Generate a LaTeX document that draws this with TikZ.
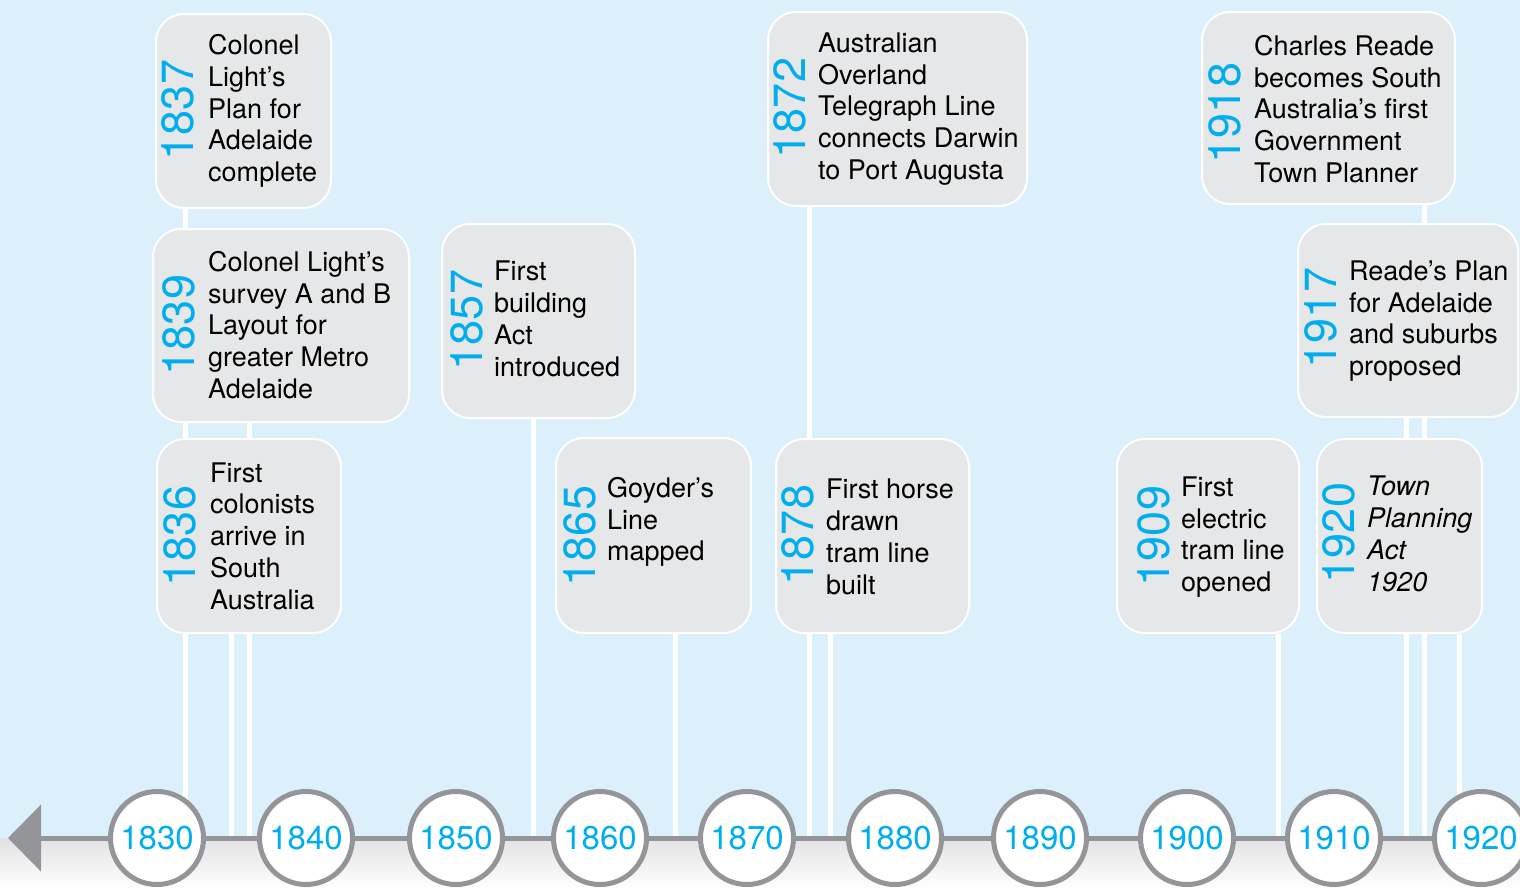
\documentclass[tikz,border=0pt]{standalone}
\usepackage{fontspec}
\setmainfont{TeX Gyre Heros}
\usetikzlibrary{arrows.meta}
\pgfdeclarelayer{background}
\pgfdeclarelayer{backmost}
\pgfsetlayers{backmost,background,main}
\definecolor{bgblue}{RGB}{220,240,251}
\definecolor{boxgray}{RGB}{230,231,232}
\definecolor{tlgray}{RGB}{147,149,152}
\definecolor{yrcyan}{RGB}{0,174,239}
\definecolor{floorgray}{RGB}{226,226,228}
\tikzset{
  evbox/.style={draw=white, line width=2pt, fill=boxgray, rounded corners=28pt, inner sep=0pt},
  evtext/.style={anchor=west, align=left, inner sep=0pt, text=black, font=\fontsize{27}{31.8}\selectfont},
  evyear/.style={rotate=90, inner sep=0pt, text=yrcyan, font=\fontsize{45}{45}\selectfont},
  conn/.style={draw=white, line width=5pt},
  timeline/.style={draw=tlgray, line width=5pt},
  yearcircle/.style={circle, draw=tlgray, line width=5pt, fill=white, minimum size=93pt, inner sep=0pt, text=yrcyan, font=\fontsize{33}{33}\selectfont}
}
\begin{document}
\begin{tikzpicture}[x=1pt,y=-1pt]
\useasboundingbox (0,0) rectangle (1520,889);
% background
\begin{pgfonlayer}{backmost}
\fill[bgblue] (0,0) rectangle (1520,838);
\shade[top color=floorgray, bottom color=white] (0,838) rectangle (1520,889);
\end{pgfonlayer}

% boxes
\node[evbox, minimum width=175pt, minimum height=194pt] (b1837) at (243.5,111) {};
\node[evbox, minimum width=256pt, minimum height=193pt] (b1839) at (281,325.5) {};
\node[evbox, minimum width=184pt, minimum height=194pt] (b1836) at (249,536) {};
\node[evbox, minimum width=193pt, minimum height=194pt] (b1857) at (538.5,321) {};
\node[evbox, minimum width=195pt, minimum height=195pt] (b1865) at (653.5,535.5) {};
\node[evbox, minimum width=259pt, minimum height=194pt] (b1872) at (897.5,109) {};
\node[evbox, minimum width=193pt, minimum height=194pt] (b1878) at (872.5,536) {};
\node[evbox, minimum width=253pt, minimum height=192pt] (b1918) at (1328.5,108) {};
\node[evbox, minimum width=220pt, minimum height=193pt] (b1917) at (1408,320.5) {};
\node[evbox, minimum width=182pt, minimum height=194pt] (b1909) at (1208,536) {};
\node[evbox, minimum width=165pt, minimum height=194pt] (b1920) at (1399.5,536) {};

% connector ends on the timeline
\coordinate (e1837) at (185,838);
\coordinate (e1836) at (231,838);
\coordinate (e1839) at (249.5,838);
\coordinate (e1857) at (533,838);
\coordinate (e1865) at (675.5,838);
\coordinate (e1872) at (809,838);
\coordinate (e1878) at (830.5,838);
\coordinate (e1909) at (1278,838);
\coordinate (e1917) at (1406,838);
\coordinate (e1918) at (1424,838);
\coordinate (e1920) at (1459.5,838);
\coordinate (tip) at (8,838);

\begin{pgfonlayer}{background}
\foreach \y in {1837,1836,1839,1857,1865,1872,1878,1909,1917,1918,1920}
  \draw[conn] (b\y.south -| e\y) -- (e\y);
\end{pgfonlayer}

% year labels
\node[evyear] (y1837) at (178,110) {1837};
\node[evyear] (y1839) at (179,325) {1839};
\node[evyear] (y1836) at (179.5,536) {1836};
\node[evyear] (y1857) at (467,320) {1857};
\node[evyear] (y1865) at (580,536) {1865};
\node[evyear] (y1872) at (790,108) {1872};
\node[evyear] (y1878) at (798,535) {1878};
\node[evyear] (y1918) at (1225,113) {1918};
\node[evyear] (y1917) at (1321,318) {1917};
\node[evyear] (y1909) at (1154,536) {1909};
\node[evyear] (y1920) at (1339,533) {1920};

% event texts
\node[evtext] (t1837) at (208,111) {Colonel\\Light’s\\Plan for\\Adelaide\\complete};
\node[evtext] (t1839) at (208,325) {Colonel Light’s\\survey A and B\\Layout for\\greater Metro\\Adelaide};
\node[evtext] (t1836) at (210,536) {First\\colonists\\arrive in\\South\\Australia};
\node[evtext] (t1857) at (494,319) {First\\building\\Act\\introduced};
\node[evtext] (t1865) at (607,522) {Goyder’s\\Line\\mapped};
\node[evtext] (t1872) at (818,109) {Australian\\Overland\\Telegraph Line\\connects Darwin\\to Port Augusta};
\node[evtext] (t1878) at (826,537) {First horse\\drawn\\tram line\\built};
\node[evtext] (t1918) at (1254,109) {Charles Reade\\becomes South\\Australia’s first\\Government\\Town Planner};
\node[evtext] (t1917) at (1349,321) {Reade’s Plan\\for Adelaide\\and suburbs\\proposed};
\node[evtext] (t1909) at (1181,537) {First\\electric\\tram line\\opened};
\node[evtext, font=\fontsize{27}{31.8}\selectfont\itshape] (t1920) at (1367,534) {Town\\Planning\\Act\\1920};

% timeline
\path
 (157,838) coordinate (p1830) (306,838) coordinate (p1840) (456,838) coordinate (p1850)
 (600,838) coordinate (p1860) (747,838) coordinate (p1870) (895,838) coordinate (p1880)
 (1040,838) coordinate (p1890) (1187,838) coordinate (p1900) (1334,838) coordinate (p1910)
 (1481,838) coordinate (p1920);
\draw[timeline, -{Triangle[length=33pt,width=66pt]}, tlgray] (p1920) -- (tip);
\foreach \y in {1830,1840,1850,1860,1870,1880,1890,1900,1910,1920}
  \node[yearcircle] (c\y) at (p\y) {\y};
\end{tikzpicture}
\end{document}
